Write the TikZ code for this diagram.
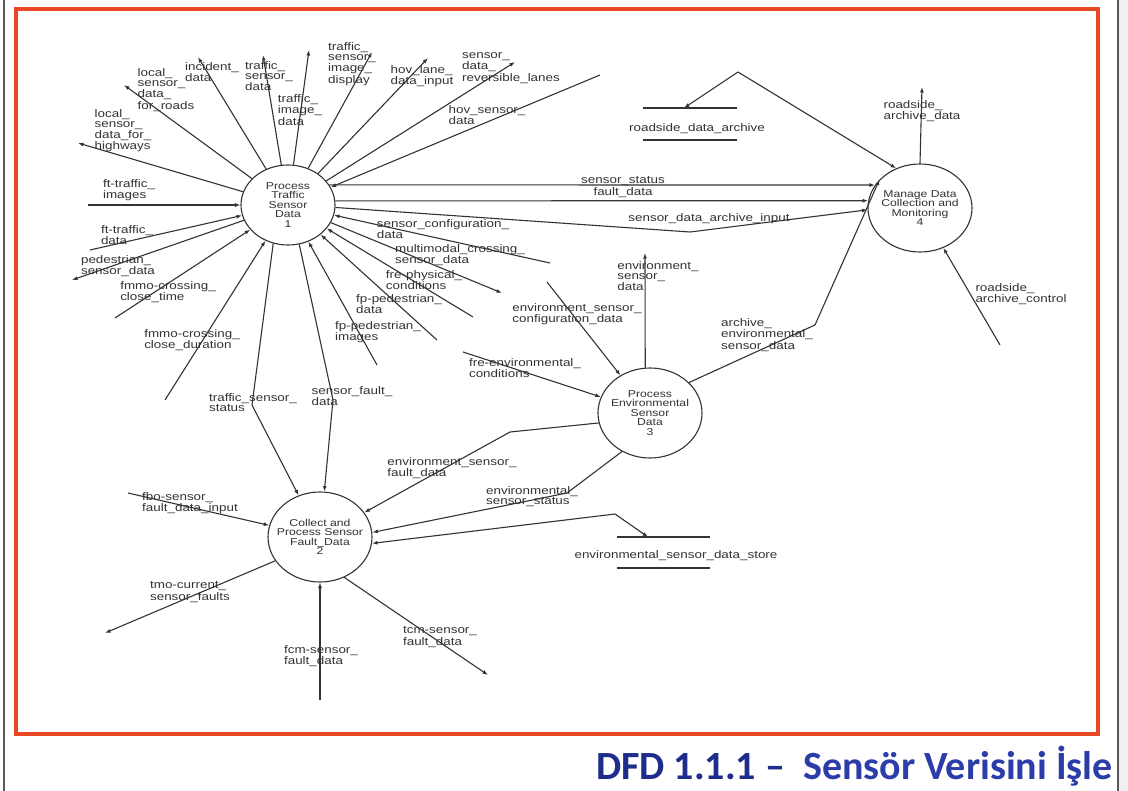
\documentclass[tikz,border=0pt]{standalone}
\usepackage{fontspec}
\setmainfont{Liberation Sans}
\newfontfamily\dfdfont[FakeStretch=1.22]{Liberation Sans}
\newfontfamily\capfont{Carlito}
\usetikzlibrary{arrows.meta,shapes.geometric}

\definecolor{ink}{HTML}{333333}
\definecolor{framered}{RGB}{232,72,36}
\definecolor{capdark}{RGB}{30,44,140}
\definecolor{caplight}{RGB}{44,60,168}

\tikzset{
  flow/.style={draw=ink, line width=1.1pt, line join=round},
  fout/.style={flow, -{Latex[length=5.5pt,width=4pt]}},
  fboth/.style={flow, {Latex[length=5.5pt,width=4pt]}-{Latex[length=5.5pt,width=4pt]}},
  lbl/.style={font=\dfdfont\fontsize{11}{10}\selectfont, text=ink, inner sep=0pt, align=left},
  bubble/.style={ellipse, draw=ink, line width=1.1pt, minimum width=104pt, minimum height=90pt, inner sep=0pt},
  bubtext/.style={font=\dfdfont\fontsize{10}{9.5}\selectfont, text=ink, inner sep=0pt, align=center},
  storeline/.style={draw=ink, line width=1.1pt},
}

\begin{document}
\begin{tikzpicture}[x=1pt,y=-1pt]
\useasboundingbox (0,0) rectangle (1128,791);
\fill[white] (0,0) rectangle (1128,791);

% slide edges and red frame
\fill[black!6] (1118,0) rectangle (1128,791);
\draw[black!65, line width=1.2pt] (4,0) -- (4,791);
\draw[black!65, line width=1.2pt] (1118,0) -- (1118,791);
\draw[framered, line width=3.5pt] (16,9) rectangle (1098,734);

% processes
\node[bubble, minimum width=94pt, minimum height=80pt,
      label={[bubtext]center:{Process\\Traffic\\Sensor\\Data\\1}}] (p1) at (288,205) {};
\node[bubble, label={[bubtext]center:{Collect and\\Process Sensor\\Fault\_Data\\2}}] (p2) at (320,537) {};
\node[bubble, label={[bubtext]center:{Process\\Environmental\\Sensor\\Data\\3}}] (p3) at (650,413) {};
\node[bubble, minimum height=88pt,
      label={[bubtext]center:{Manage Data\\Collection and\\Monitoring\\4}}] (p4) at (920,208) {};

% data stores
\node[lbl] (sa) at (697,129) {roadside\_data\_archive};
\draw[storeline] (643,108) -- (737,108) (643,140) -- (737,140);
\coordinate (satop) at (684,108);
\node[lbl] (es) at (676,556) {environmental\_sensor\_data\_store};
\draw[storeline] (617,537) -- (710,537) (617,568) -- (710,568);
\coordinate (estop) at (648,537);

% free ends of flows
\coordinate (o1) at (78,143);
\coordinate (o2) at (124,85);
\coordinate (o3) at (198,57);
\coordinate (o4) at (263,55);
\coordinate (o5) at (309,50);
\coordinate (o6) at (372,52);
\coordinate (o7) at (428,58);
\coordinate (o8) at (515,62);
\coordinate (i9) at (600,75);
\coordinate (ij) at (88,205);
\coordinate (ik) at (90,250);
\coordinate (ol) at (72,280);
\coordinate (im) at (115,318);
\coordinate (in) at (165,400);
\coordinate (iq) at (550,263);
\coordinate (or) at (502,293);
\coordinate (is) at (473,317);
\coordinate (it) at (437,340);
\coordinate (iu) at (377,365);
\coordinate (b1) at (252,405);
\coordinate (b2) at (333,400);
\coordinate (b3) at (690,232);
\coordinate (peak) at (738,72);
\coordinate (rad) at (922,87);
\coordinate (rac) at (1000,345);
\coordinate (b4) at (815,325);
\coordinate (iec) at (547,282);
\coordinate (esd) at (645,253);
\coordinate (ife) at (463,352);
\coordinate (b5) at (510,432);
\coordinate (b6) at (567,493);
\coordinate (b7) at (615,514);
\coordinate (ifb) at (128,493);
\coordinate (otm) at (105,633);
\coordinate (ifc) at (320,700);
\coordinate (otc) at (488,675);

% flows of process 1
\draw[fout] (p1) -- (o1);
\draw[fout] (p1) -- (o2);
\draw[fout] (p1) -- (o3);
\draw[fout] (p1) -- (o4);
\draw[fout] (p1) -- (o5);
\draw[fout] (p1) -- (o6);
\draw[fout] (p1) -- (o7);
\draw[fout] (p1) -- (o8);
\draw[fout] (i9) -- (p1);
\draw[fout] (ij) -- (p1);
\draw[fout] (ik) -- (p1);
\draw[fout] (p1) -- (ol);
\draw[fout] (im) -- (p1);
\draw[fout] (in) -- (p1);
\draw[fout] (iq) -- (p1);
\draw[fout] (p1) -- (or);
\draw[fout] (is) -- (p1);
\draw[fout] (it) -- (p1);
\draw[fout] (iu) -- (p1);
\draw[fout] (p1.249) -- (b1) -- (p2);
\draw[fout] (p1.286) -- (b2) -- (p2);
\draw[fout] (p1.26) -- (p4.153);
\draw[fout] (p1.5) -- (p4.172);
\draw[fout] (p1.-3) -- (b3) -- (p4.182);

% flows of process 4
\draw[fboth] (satop) -- (peak) -- (p4.121);
\draw[fout] (p4.90) -- (rad);
\draw[fout] (rac) -- (p4);
\draw[fout] (p3.38) -- (b4) -- (p4.145);

% flows of process 3
\draw[fout] (iec) -- (p3);
\draw[fout] (p3.96) -- (esd);
\draw[fout] (ife) -- (p3);
\draw[fout] (p3.191) -- (b5) -- (p2);
\draw[fout] (p3.234) -- (b6) -- (p2.5);
\draw[fboth] (estop) -- (b7) -- (p2.-7);

% flows of process 2
\draw[fout] (ifb) -- (p2);
\draw[fout] (p2.208) -- (otm);
\draw[fout] (ifc) -- (p2);
\draw[fout] (p2.301) -- (otc);

% flow labels
\node[lbl] (l1) at (123,131) {local\_\\sensor\_\\data\_for\_\\highways};
\node[lbl] (l2) at (166,90) {local\_\\sensor\_\\data\_\\for\_roads};
\node[lbl] (l3) at (212,72) {incident\_\\data};
\node[lbl] (l4) at (269,76) {traffic\_\\sensor\_\\data};
\node[lbl] (l5) at (300,110) {traffic\_\\image\_\\data};
\node[lbl] (l6) at (352,64) {traffic\_\\sensor\_\\image\_\\display};
\node[lbl] (l7) at (422,76) {hov\_lane\_\\data\_input};
\node[lbl] (l8) at (511,68) {sensor\_\\data\_\\reversible\_lanes};
\node[lbl] (l9) at (487,115) {hov\_sensor\_\\data};
\node[lbl, align=center] (l10) at (623,187) {sensor\_status\\fault\_data};
\node[lbl] (l11) at (709,219) {sensor\_data\_archive\_input};
\node[lbl] (l12) at (922,111) {roadside\_\\archive\_data};
\node[lbl] (l13) at (1021,294) {roadside\_\\archive\_control};
\node[lbl] (l14) at (767,335) {archive\_\\environmental\_\\sensor\_data};
\node[lbl] (l15) at (658,276) {environment\_\\sensor\_\\data};
\node[lbl] (l16) at (577,314) {environment\_sensor\_\\configuration\_data};
\node[lbl] (l17) at (443,229) {sensor\_configuration\_\\data};
\node[lbl] (l18) at (460,255) {multimodal\_crossing\_\\sensor\_data};
\node[lbl] (l19) at (424,280) {fre-physical\_\\conditions};
\node[lbl] (l20) at (399,304) {fp-pedestrian\_\\data};
\node[lbl] (l21) at (378,332) {fp-pedestrian\_\\images};
\node[lbl] (l22) at (525,368) {fre-environmental\_\\conditions};
\node[lbl] (l23) at (129,190) {ft-traffic\_\\images};
\node[lbl] (l24) at (127,235) {ft-traffic\_\\data};
\node[lbl] (l25) at (118,266) {pedestrian\_\\sensor\_data};
\node[lbl] (l26) at (168,292) {fmmo-crossing\_\\close\_time};
\node[lbl] (l27) at (192,340) {fmmo-crossing\_\\close\_duration};
\node[lbl] (l28) at (253,403) {traffic\_sensor\_\\status};
\node[lbl] (l29) at (352,396) {sensor\_fault\_\\data};
\node[lbl] (l30) at (452,468) {environment\_sensor\_\\fault\_data};
\node[lbl] (l31) at (532,497) {environmental\_\\sensor\_status};
\node[lbl] (l32) at (190,503) {fbo-sensor\_\\fault\_data\_input};
\node[lbl] (l33) at (190,592) {tmo-current\_\\sensor\_faults};
\node[lbl] (l34) at (321,656) {fcm-sensor\_\\fault\_data};
\node[lbl] (l35) at (440,637) {tcm-sensor\_\\fault\_data};

% caption
\node[anchor=base east, inner sep=0pt, font=\capfont\bfseries\fontsize{40}{40}\selectfont] (cap) at (1113,779)
  {\textcolor{capdark}{DFD 1.1.1 –}\ \ \textcolor{caplight}{Sensör Verisini İşle}};
\end{tikzpicture}
\end{document}
